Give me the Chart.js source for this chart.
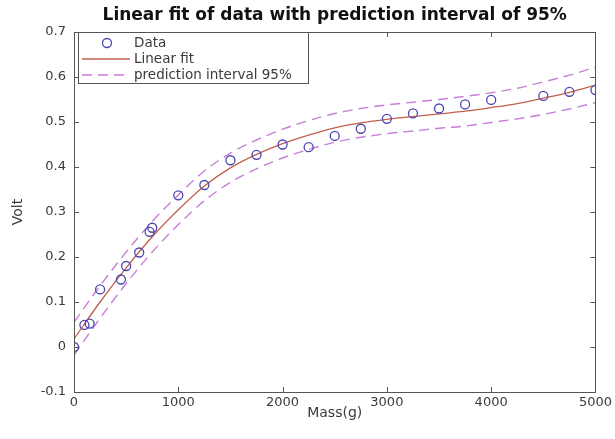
<!DOCTYPE html>
<html>
<head>
<meta charset="utf-8">
<script src="https://cdn.jsdelivr.net/npm/chart.js@4/dist/chart.umd.min.js"></script>
<style>
  html, body { margin: 0; padding: 0; background: #fff; }
  #wrap { width: 615px; height: 439px; }
</style>
</head>
<body>
<div id="wrap"><canvas id="fitChart" width="615" height="439"></canvas></div>
<script>
// measured points
const massData = [0, 100, 150, 250, 450, 500, 625, 725, 750, 1000, 1250, 1500, 1750, 2000, 2250, 2500, 2750, 3000, 3250, 3500, 3750, 4000, 4500, 4750, 5000];
const voltData = [0.0, 0.049, 0.052, 0.128, 0.150, 0.180, 0.210, 0.256, 0.265, 0.337, 0.360, 0.415, 0.427, 0.450, 0.444, 0.469, 0.485, 0.507, 0.519, 0.530, 0.539, 0.549, 0.558, 0.567, 0.571];

// fitted curve and 95% prediction band
const fitMass = [0, 250, 500, 750, 1000, 1250, 1500, 1750, 2000, 2250, 2500, 2750, 3000, 3250, 3500, 3750, 4000, 4250, 4500, 4750, 5000];
const fitVolt = [0.018, 0.100, 0.176, 0.245, 0.305, 0.358, 0.398, 0.428, 0.452, 0.471, 0.487, 0.498, 0.506, 0.512, 0.518, 0.524, 0.532, 0.541, 0.553, 0.566, 0.582];
const upperVolt = [0.055, 0.136, 0.211, 0.279, 0.338, 0.391, 0.431, 0.460, 0.484, 0.503, 0.519, 0.530, 0.538, 0.544, 0.550, 0.557, 0.565, 0.575, 0.589, 0.604, 0.622];
const lowerVolt = [-0.018, 0.064, 0.141, 0.211, 0.272, 0.325, 0.366, 0.396, 0.420, 0.439, 0.455, 0.466, 0.474, 0.480, 0.486, 0.491, 0.499, 0.507, 0.517, 0.529, 0.543];

const xTicks = [0, 1000, 2000, 3000, 4000, 5000];
const yTicks = [-0.1, 0, 0.1, 0.2, 0.3, 0.4, 0.5, 0.6, 0.7];

const titleText = 'Linear fit of data with prediction interval of 95%';
const legendLabels = ['Data', 'Linear fit', 'prediction interval 95%'];

const textColor = '#3a3a3a';
const frameColor = '#555555';
const dataColor = '#4b45b0';
const fitColor = '#c0604c';
const bandColor = '#c77fd8';

function toPoints(xs, ys) {
    return xs.map((x, i) => ({ x: x, y: ys[i] }));
}

// frame with inward ticks on all four sides (box on)
const framePlugin = {
    id: 'frame',
    afterDraw(chart) {
        const { ctx, chartArea: a, scales } = chart;
        ctx.save();
        ctx.strokeStyle = frameColor;
        ctx.lineWidth = 1;
        ctx.strokeRect(Math.round(a.left) + 0.5, Math.round(a.top) + 0.5,
            Math.round(a.right - a.left), Math.round(a.bottom - a.top));
        ctx.beginPath();
        xTicks.forEach(v => {
            const px = Math.round(scales.x.getPixelForValue(v)) + 0.5;
            ctx.moveTo(px, a.bottom); ctx.lineTo(px, a.bottom - 5);
            ctx.moveTo(px, a.top); ctx.lineTo(px, a.top + 5);
        });
        yTicks.forEach(v => {
            const py = Math.round(scales.y.getPixelForValue(v)) + 0.5;
            ctx.moveTo(a.left, py); ctx.lineTo(a.left + 5, py);
            ctx.moveTo(a.right, py); ctx.lineTo(a.right - 5, py);
        });
        ctx.stroke();

        // title centred over the plot
        ctx.fillStyle = '#111';
        ctx.font = 'bold 17px "DejaVu Sans"';
        ctx.textAlign = 'center';
        ctx.textBaseline = 'middle';
        ctx.fillText(titleText, (a.left + a.right) / 2, 16);

        // legend box in the upper left corner
        const lx = a.left + 4, ly = a.top, lw = 230, lh = 51;
        ctx.fillStyle = '#fff';
        ctx.fillRect(lx, ly, lw, lh);
        ctx.strokeStyle = frameColor;
        ctx.strokeRect(lx + 0.5, ly + 0.5, lw, lh);
        ctx.font = '13.5px "DejaVu Sans"';
        ctx.textAlign = 'left';
        const rows = [ly + 11, ly + 27, ly + 43];
        chart.data.datasets.slice(0, 3).forEach((ds, i) => {
            const ry = rows[i];
            ctx.strokeStyle = ds.borderColor;
            ctx.lineWidth = 1.3;
            if (i === 0) {
                ctx.beginPath();
                ctx.arc(lx + 29, ry, 4.5, 0, Math.PI * 2);
                ctx.stroke();
            } else {
                ctx.setLineDash(ds.borderDash || []);
                ctx.beginPath();
                ctx.moveTo(lx + 4, ry); ctx.lineTo(lx + 52, ry);
                ctx.stroke();
                ctx.setLineDash([]);
            }
            ctx.fillStyle = textColor;
            ctx.fillText(legendLabels[i], lx + 56, ry);
        });
        ctx.restore();
    }
};

new Chart(document.getElementById('fitChart'), {
    type: 'scatter',
    data: {
        datasets: [
            {
                label: legendLabels[0],
                data: toPoints(massData, voltData),
                borderColor: dataColor,
                backgroundColor: 'rgba(0,0,0,0)',
                borderWidth: 1.3,
                pointRadius: 4.5,
                pointHoverRadius: 4.5,
                showLine: false,
                order: 0
            },
            {
                label: legendLabels[1],
                data: toPoints(fitMass, fitVolt),
                borderColor: fitColor,
                borderWidth: 1.3,
                pointRadius: 0,
                showLine: true,
                cubicInterpolationMode: 'monotone',
                order: 1
            },
            {
                label: legendLabels[2],
                data: toPoints(fitMass, upperVolt),
                borderColor: bandColor,
                borderWidth: 1.4,
                borderDash: [10, 6],
                pointRadius: 0,
                showLine: true,
                cubicInterpolationMode: 'monotone',
                order: 2
            },
            {
                label: 'lower',
                data: toPoints(fitMass, lowerVolt),
                borderColor: bandColor,
                borderWidth: 1.4,
                borderDash: [10, 6],
                pointRadius: 0,
                showLine: true,
                cubicInterpolationMode: 'monotone',
                order: 2
            }
        ]
    },
    options: {
        responsive: false,
        animation: false,
        layout: { padding: { top: 32, right: 18, left: 0, bottom: 0 } },
        plugins: {
            legend: { display: false },
            title: { display: false },
            tooltip: { enabled: false }
        },
        scales: {
            x: {
                type: 'linear',
                min: 0,
                max: 5000,
                afterBuildTicks: scale => { scale.ticks = xTicks.map(v => ({ value: v })); },
                afterFit: scale => { scale.height = 47; },
                grid: { display: false, drawTicks: false },
                border: { display: false },
                ticks: {
                    color: textColor,
                    padding: 3,
                    font: { family: 'DejaVu Sans', size: 13 },
                    maxRotation: 0,
                    callback: v => String(v)
                },
                title: {
                    display: true,
                    text: 'Mass(g)',
                    color: textColor,
                    font: { family: 'DejaVu Sans', size: 14 },
                    padding: { top: 0, bottom: 17 }
                }
            },
            y: {
                type: 'linear',
                min: -0.1,
                max: 0.7,
                afterBuildTicks: scale => { scale.ticks = yTicks.map(v => ({ value: v })); },
                afterFit: scale => { scale.width = 74; },
                grid: { display: false, drawTicks: false },
                border: { display: false },
                ticks: {
                    color: textColor,
                    padding: 8,
                    font: { family: 'DejaVu Sans', size: 13 },
                    callback: v => (Math.round(v * 10) / 10).toString()
                },
                title: {
                    display: true,
                    text: 'Volt',
                    color: textColor,
                    font: { family: 'DejaVu Sans', size: 14 },
                    padding: { top: 10, bottom: 0 }
                }
            }
        }
    },
    plugins: [framePlugin]
});
</script>
</body>
</html>
